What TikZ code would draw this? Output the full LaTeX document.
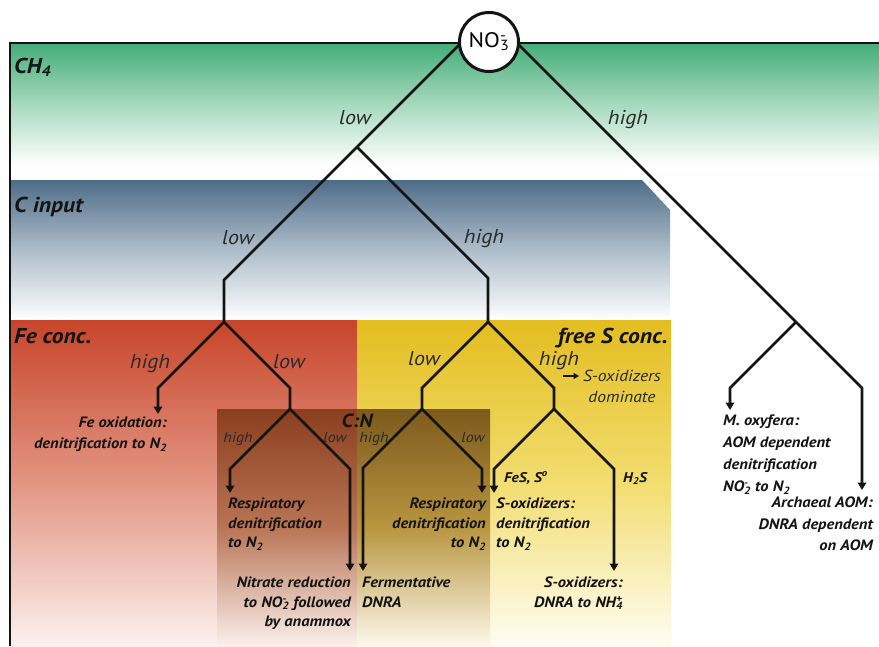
\documentclass[tikz,border=0pt]{standalone}
\usepackage{fontspec}
\setmainfont{PT Sans}[FakeStretch=1.1]
\usetikzlibrary{arrows.meta}
\newcommand{\ssx}[2]{\rlap{\textsuperscript{#2}}\textsubscript{#1}}
\definecolor{gTop}{HTML}{44AD79}
\definecolor{gMid}{HTML}{A6D9BD}
\definecolor{bTop}{HTML}{4E6C87}
\definecolor{bMid}{HTML}{AEBDCB}
\definecolor{fTop}{HTML}{C7452A}
\definecolor{fMid}{HTML}{E39583}
\definecolor{fBot}{HTML}{FCF1EE}
\definecolor{sTop}{HTML}{E3BD20}
\definecolor{sMid}{HTML}{F2DD70}
\definecolor{sBot}{HTML}{FFFDF3}
\definecolor{cLTop}{HTML}{8A3E1E}
\definecolor{cLMid}{HTML}{B97456}
\definecolor{cLBot}{HTML}{FBF0EB}
\definecolor{cRTop}{HTML}{7C5A1C}
\definecolor{cRMid}{HTML}{B8953F}
\definecolor{cRBot}{HTML}{FEF9EC}
\definecolor{ink}{HTML}{141414}
\definecolor{soft}{HTML}{2A2A2A}
\tikzset{
  tree/.style={line width=2.7pt, draw=ink, line join=miter},
  tip/.style={tree, -{Triangle[width=8.5pt,length=7.5pt]}},
  cond/.style={font=\fontsize{20}{20}\selectfont\itshape, text=soft, inner sep=0pt, anchor=base},
  cnd/.style={font=\fontsize{14.5}{14.5}\selectfont\itshape, text=soft, inner sep=0pt, anchor=base},
  zone/.style={font=\fontsize{21.5}{21.5}\selectfont\bfseries\itshape, text=ink, inner sep=0pt},
  leafl/.style={font=\fontsize{15}{19.5}\selectfont\bfseries\itshape, text=ink, inner sep=0pt, align=left, anchor=north west},
  leafr/.style={font=\fontsize{15}{19.5}\selectfont\bfseries\itshape, text=ink, inner sep=0pt, align=right, anchor=north east},
  tag/.style={font=\fontsize{14}{14}\selectfont\bfseries\itshape, text=ink, inner sep=0pt, anchor=base west},
}
\begin{document}
\begin{tikzpicture}[x=1pt,y=-1pt]
\useasboundingbox (0,0) rectangle (879,646);
% background bands
\shade[top color=gTop, bottom color=white, middle color=gMid] (10,43) rectangle (879,165);
\shade[top color=bTop, bottom color=white, middle color=bMid] (10,180) -- (642,180) -- (670,210) -- (670,320) -- (10,320) -- cycle;
\shade[top color=fTop, bottom color=fBot, middle color=fMid] (10,320) rectangle (357,646);
\shade[top color=sTop, bottom color=sBot, middle color=sMid] (357,320) rectangle (671,646);
\shade[top color=cLTop, bottom color=cLBot, middle color=cLMid] (217,409) rectangle (357,646);
\shade[top color=cRTop, bottom color=cRBot, middle color=cRMid] (357,409) rectangle (490,646);
% frame
\draw[line width=2pt, draw=ink] (10,646) -- (10,43) -- (879,43);
% junctions
\coordinate (rootL) at (462,42);
\coordinate (rootR) at (516,42);
\coordinate (jC) at (357,147);
\coordinate (jFe) at (224,322);
\coordinate (jS) at (488,322);
\coordinate (jCN) at (290,409);
\coordinate (jCN2) at (422,409);
\coordinate (jS2) at (554,409);
\coordinate (jM) at (796,322);
% arrow ends
\coordinate (tFe) at (158,414);
\coordinate (tR1) at (230,493);
\coordinate (tNi) at (350,571);
\coordinate (tFer) at (363,571);
\coordinate (tR2) at (482,493);
\coordinate (tSo1) at (494,493);
\coordinate (tSo2) at (614,571);
\coordinate (tMo) at (730,410);
\coordinate (tAr) at (862,490);
% tree
\draw[tree] (rootL) -- (jC);
\draw[tree] (jC) -- ++(-133,133) -- (jFe);
\draw[tree] (jC) -- ++(131,131) -- (jS);
\draw[tip] (jFe) -- ++(-66,66) -- (tFe);
\draw[tree] (jFe) -- ++(66,66) -- (jCN);
\draw[tip] (jCN) -- ++(-60,60) -- (tR1);
\draw[tip] (jCN) -- ++(60,60) -- (tNi);
\draw[tree] (jS) -- ++(-66,66) -- (jCN2);
\draw[tree] (jS) -- ++(66,66) -- (jS2);
\draw[tip] (jCN2) -- ++(-59,59) -- (tFer);
\draw[tip] (jCN2) -- ++(60,60) -- (tR2);
\draw[tip] (jS2) -- ++(-60,60) -- (tSo1);
\draw[tip] (jS2) -- ++(60,60) -- (tSo2);
\draw[tree] (rootR) -- (jM);
\draw[tip] (jM) -- ++(66,66) -- (tAr);
\draw[tip] (jM) -- ++(-66,66) -- (tMo);
% root
\node[circle, draw=ink, line width=3pt, fill=white, minimum size=59pt, inner sep=0pt,
      font=\fontsize{21}{21}\selectfont] (no3) at (489,42) {NO\ssx{3}{-}};
% zone labels
\node[zone, anchor=base west] (lch4) at (14,73) {CH\textsubscript{4}};
\node[zone, anchor=base west] (lcin) at (14,212) {C input};
\node[zone, anchor=base west] (lfe) at (14,343) {Fe conc.};
\node[zone, anchor=base east] (ls) at (668,343) {free S conc.};
\node[zone, anchor=base, font=\fontsize{19}{19}\selectfont\bfseries\itshape] (lcn) at (357,427) {C:N};
% condition labels
\node[cond] (c1) at (355,124) {low};
\node[cond] (c2) at (628,124) {high};
\node[cond] (c3) at (238,244) {low};
\node[cond] (c4) at (484,243) {high};
\node[cond] (c5) at (150,368) {high};
\node[cond] (c6) at (289,368) {low};
\node[cond] (c7) at (424,365) {low};
\node[cond] (c8) at (559,365) {high};
\node[cnd] (c9) at (238,442) {high};
\node[cnd] (c10) at (335,442) {low};
\node[cnd] (c11) at (374,442) {high};
\node[cnd] (c12) at (473,442) {low};
\node[font=\fontsize{16}{21}\selectfont\itshape, text=soft, inner sep=0pt, align=center, anchor=north] (sox) at (622,370) {S-oxidizers\\dominate};
\coordinate (soxa) at (563,376);
\draw[line width=1.6pt, draw=ink, -{Triangle[width=6pt,length=5.5pt]}] (soxa) -- (579,376);
\node[tag] (fes) at (504,482) {FeS, S\textsuperscript{o}};
\node[tag] (h2s) at (623,482) {H\textsubscript{2}S};
% leaves
\node[leafr, font=\fontsize{15}{21}\selectfont\bfseries\itshape] (lfeox) at (167,417) {Fe oxidation:\\denitrification to N\textsubscript{2}};
\node[leafl] (lr1) at (228,498) {Respiratory\\denitrification\\to N\textsubscript{2}};
\node[leafr] (lr2) at (486,498) {Respiratory\\denitrification\\to N\textsubscript{2}};
\node[leafl] (lso1) at (496,498) {S-oxidizers:\\denitrification\\to N\textsubscript{2}};
\node[leafr] (lni) at (351,577) {Nitrate reduction\\to NO\ssx{2}{-} followed\\by anammox};
\node[leafl] (lfer) at (362,577) {Fermentative\\DNRA};
\node[leafr] (lso2) at (623,577) {S-oxidizers:\\DNRA to NH\ssx{4}{+}};
\node[leafl, font=\fontsize{15}{22}\selectfont\bfseries\itshape] (lmo) at (723,415) {M. oxyfera:\\AOM dependent\\denitrification\\NO\ssx{2}{-} to N\textsubscript{2}};
\node[leafr, font=\fontsize{15}{21.5}\selectfont\bfseries\itshape] (lar) at (873,497) {Archaeal AOM:\\DNRA dependent\\on AOM};
\end{tikzpicture}
\end{document}
